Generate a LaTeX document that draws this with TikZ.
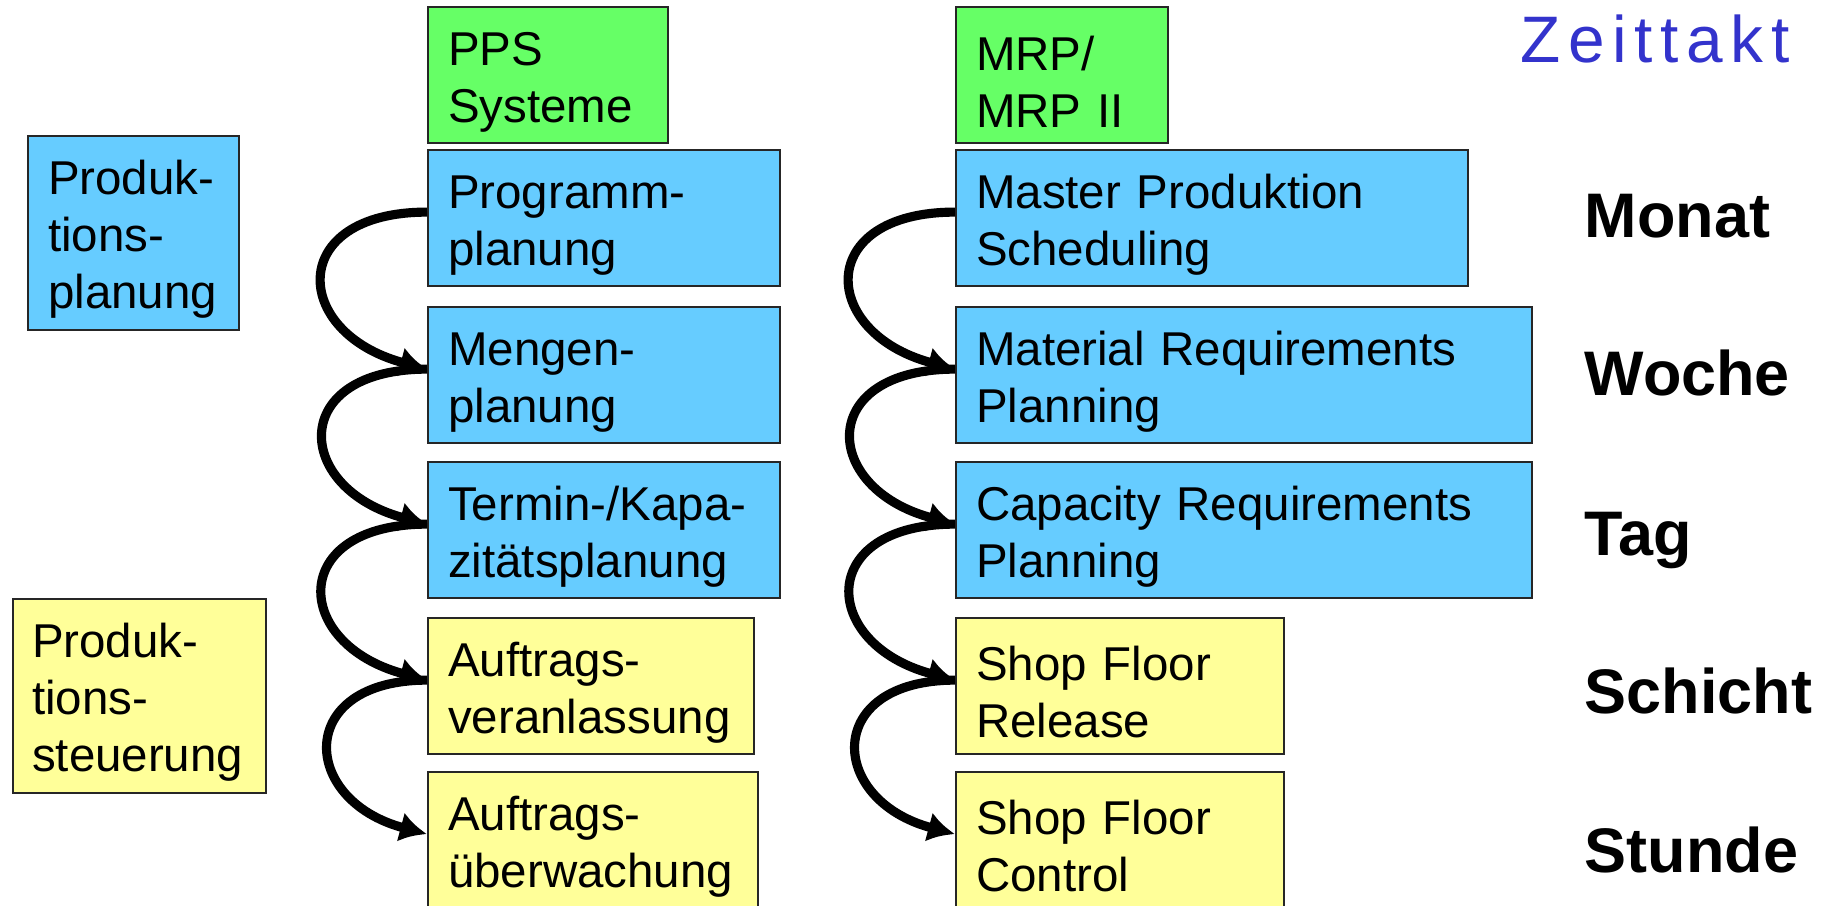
\documentclass[tikz,border=0pt]{standalone}
\usepackage{fontspec}
\setmainfont{Liberation Sans}
\newfontfamily\zeitfont[LetterSpace=11.6]{Liberation Sans}
\usepackage{tikz}
\usetikzlibrary{arrows.meta, positioning}

\definecolor{ppsgreen}{HTML}{66FF66}
\definecolor{planblue}{HTML}{66CCFF}
\definecolor{steuyellow}{HTML}{FFFF99}
\definecolor{zeitblue}{HTML}{3333CC}

\tikzset{
    box/.style={draw=black!85, line width=0.6pt, anchor=north west, align=left,
        inner xsep=0.2cm, inner ysep=0pt, minimum height=1.36cm,
        font=\fontsize{13.5}{16.2}\selectfont,
        execute at begin node={\rule{0pt}{0.47cm}}},
    sysbox/.style={box, fill=ppsgreen},
    planbox/.style={box, fill=planblue},
    steubox/.style={box, fill=steuyellow},
    takt/.style={anchor=base west, inner sep=0pt, font=\fontsize{17.9}{20}\selectfont\bfseries},
    flow/.style={line width=2.6pt, -{Latex[length=0.27cm,width=0.3cm]}},
}

\begin{document}
\begin{tikzpicture}[x=0.01cm, y=-0.01cm]
    \useasboundingbox (0,0) rectangle (1831,905);

    % links
    \node[planbox, text width=1.71cm, minimum height=1.94cm] (prodp) at (27,135) {Produk-\\tions-\\planung};
    \node[steubox, text width=2.15cm, inner xsep=0.19cm, minimum height=1.94cm] (prods) at (12,598) {Produk-\\tions-\\steuerung};

    % PPS
    \node[sysbox, text width=2.0cm] (pps) at (427,6) {PPS\\Systeme};
    \node[planbox, text width=3.12cm] (prog) at (427,149) {Programm-\\planung};
    \node[planbox, text width=3.12cm] (meng) at (427,306) {Mengen-\\planung};
    \node[planbox, text width=3.12cm] (term) at (427,461) {Termin-/Kapa-\\zitätsplanung};
    \node[steubox, text width=2.86cm] (auftv) at (427,617) {Auftrags-\\veranlassung};
    \node[steubox, text width=2.9cm] (auftu) at (427,771) {Auftrags-\\überwachung};

    % MRP
    \node[sysbox, text width=1.72cm] (mrp) at (955,6) {MRP/\\MRP II};
    \node[planbox, text width=4.72cm] (mps) at (955,149) {Master Produktion\\Scheduling};
    \node[planbox, text width=5.36cm] (matr) at (955,306) {Material Requirements\\Planning};
    \node[planbox, text width=5.36cm] (capr) at (955,461) {Capacity Requirements\\Planning};
    \node[steubox, text width=2.88cm] (sfr) at (955,617) {Shop Floor\\Release};
    \node[steubox, text width=2.88cm] (sfc) at (955,771) {Shop Floor\\Control};

    % Zeittakt
    \node[anchor=base west, inner sep=0pt, text=zeitblue, font=\zeitfont\fontsize{18.7}{20}\selectfont] (zeit) at (1520,62) {Zeittakt};
    \node[takt] (monat) at (1584,237) {Monat};
    \node[takt] (woche) at (1584,395) {Woche};
    \node[takt] (tag) at (1584,555) {Tag};
    \node[takt] (schicht) at (1584,713) {Schicht};
    \node[takt] (stunde) at (1584,872) {Stunde};

    % Pfeile
    \draw[flow] ([yshift=0.06cm]prog.west) to[out=180, in=165, looseness=2.3] ([yshift=0.06cm]meng.west);
    \draw[flow] ([yshift=0.06cm]meng.west) to[out=180, in=165, looseness=2.3] ([yshift=0.06cm]term.west);
    \draw[flow] ([yshift=0.06cm]term.west) to[out=180, in=165, looseness=2.3] ([yshift=0.06cm]auftv.west);
    \draw[flow] ([yshift=0.06cm]auftv.west) to[out=180, in=165, looseness=2.2] ([yshift=0.06cm]auftu.west);

    \draw[flow] ([yshift=0.06cm]mps.west) to[out=180, in=165, looseness=2.3] ([yshift=0.06cm]matr.west);
    \draw[flow] ([yshift=0.06cm]matr.west) to[out=180, in=165, looseness=2.3] ([yshift=0.06cm]capr.west);
    \draw[flow] ([yshift=0.06cm]capr.west) to[out=180, in=165, looseness=2.3] ([yshift=0.06cm]sfr.west);
    \draw[flow] ([yshift=0.06cm]sfr.west) to[out=180, in=165, looseness=2.2] ([yshift=0.06cm]sfc.west);

\end{tikzpicture}
\end{document}
